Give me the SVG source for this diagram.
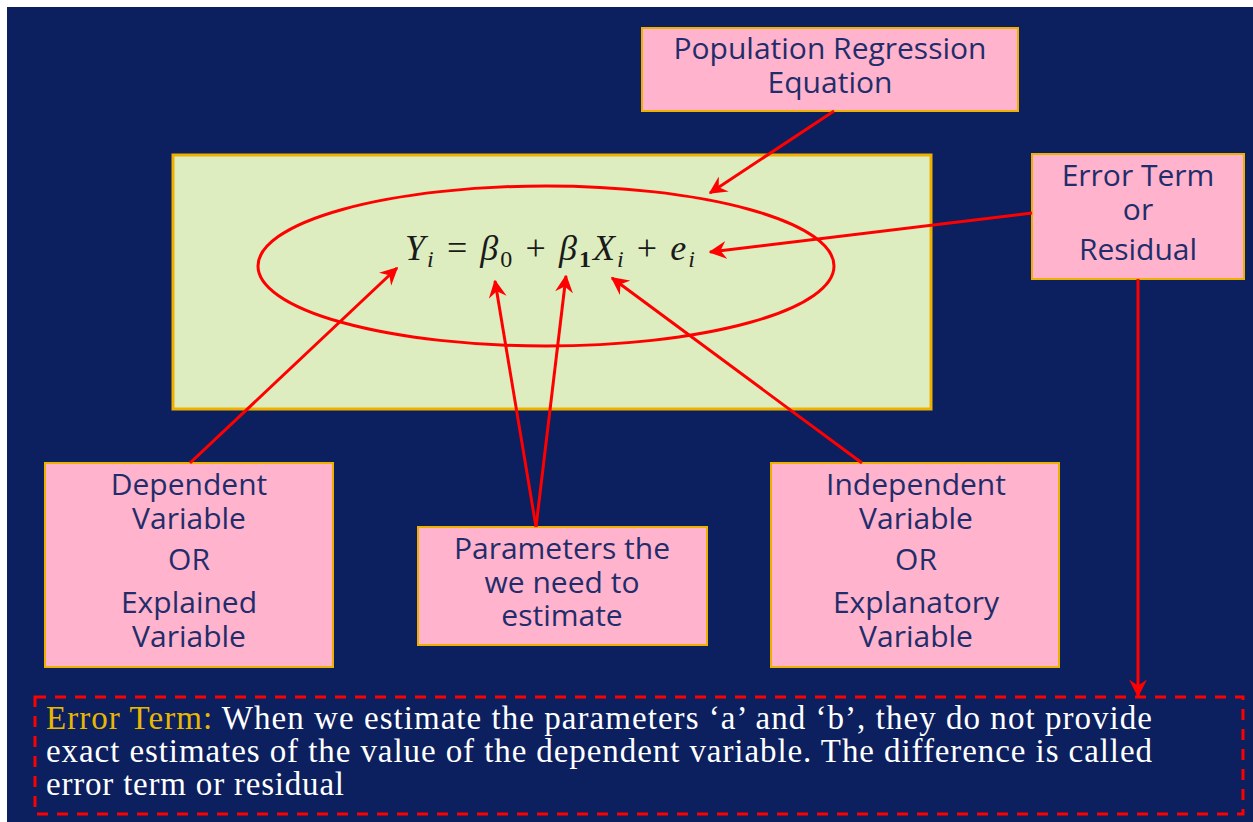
<svg xmlns="http://www.w3.org/2000/svg" width="1253" height="822" viewBox="0 0 1253 822">
<defs>
<style>
.box{fill:#FFB3CC;stroke:#F0B000;stroke-width:2}
.lbl{font-family:"Open Sans","Liberation Sans",sans-serif;font-size:30px;fill:#1F2D6B;text-anchor:middle}
.con{stroke:#FF0000;stroke-width:3;fill:none}
.eq{font-family:"Liberation Serif",serif;font-size:36px;fill:#1a1a1a}
.body{font-family:"Liberation Serif",serif;font-size:33px;fill:#FFFFFF}
</style>
<marker id="ah" viewBox="0 0 12 12" refX="11" refY="6" markerWidth="6" markerHeight="6" orient="auto" markerUnits="strokeWidth">
<path d="M0,0 L12,6 L0,12 L4,6 Z" fill="#FF0000"/>
</marker>
</defs>
<rect x="0" y="0" width="1253" height="822" fill="#FFFFFF"/>
<rect x="7" y="7" width="1246" height="815" fill="#0C1F5E"/>

<g id="equation-panel">
<rect x="173" y="155" width="758" height="254" fill="#DDEDC0" stroke="#F0B000" stroke-width="3"/>
<ellipse cx="546" cy="266" rx="288" ry="80" fill="none" stroke="#FF0000" stroke-width="3"/>
<text class="eq" x="405" y="260" textLength="290" lengthAdjust="spacing"><tspan font-style="italic">Y</tspan><tspan font-style="italic" font-size="24" dy="7">i</tspan><tspan dy="-7"> = </tspan><tspan font-style="italic">β</tspan><tspan font-size="24" dy="7">0</tspan><tspan dy="-7"> + </tspan><tspan font-style="italic">β</tspan><tspan font-size="24" font-weight="bold" dy="7">1</tspan><tspan font-style="italic" dy="-7">X</tspan><tspan font-style="italic" font-size="24" dy="7">i</tspan><tspan dy="-7"> + </tspan><tspan font-style="italic">e</tspan><tspan font-style="italic" font-size="24" dy="7">i</tspan></text>
</g>

<g id="population">
<rect class="box" x="642" y="28" width="376" height="83"/>
<text class="lbl" x="830" y="59">Population Regression</text>
<text class="lbl" x="830" y="93">Equation</text>
</g>

<g id="error-term">
<rect class="box" x="1032" y="154" width="212" height="125"/>
<text class="lbl" x="1138" y="186">Error Term</text>
<text class="lbl" x="1138" y="220">or</text>
<text class="lbl" x="1138" y="260">Residual</text>
</g>

<g id="dependent">
<rect class="box" x="45" y="463" width="288" height="204"/>
<text class="lbl" x="189" y="495">Dependent</text>
<text class="lbl" x="189" y="529">Variable</text>
<text class="lbl" x="189" y="570">OR</text>
<text class="lbl" x="189" y="613">Explained</text>
<text class="lbl" x="189" y="647">Variable</text>
</g>

<g id="parameters">
<rect class="box" x="418" y="527" width="289" height="118"/>
<text class="lbl" x="562" y="559">Parameters the</text>
<text class="lbl" x="562" y="593">we need to</text>
<text class="lbl" x="562" y="626">estimate</text>
</g>

<g id="independent">
<rect class="box" x="771" y="463" width="288" height="204"/>
<text class="lbl" x="916" y="495">Independent</text>
<text class="lbl" x="916" y="529">Variable</text>
<text class="lbl" x="916" y="570">OR</text>
<text class="lbl" x="916" y="613">Explanatory</text>
<text class="lbl" x="916" y="647">Variable</text>
</g>

<g id="note">
<rect x="35" y="697" width="1208" height="117" fill="none" stroke="#FF0000" stroke-width="3" stroke-dasharray="11,9"/>
<text class="body" x="46" y="729" textLength="1106" lengthAdjust="spacing"><tspan fill="#E8B800">Error Term:</tspan> When we estimate the parameters ‘a’ and ‘b’, they do not provide</text>
<text class="body" x="46" y="762" textLength="1106" lengthAdjust="spacing">exact estimates of the value of the dependent variable. The difference is called</text>
<text class="body" x="46" y="795" textLength="298" lengthAdjust="spacing">error term or residual</text>
</g>

<g id="connectors">
<line class="con" x1="834" y1="111" x2="710" y2="193" marker-end="url(#ah)"/>
<line class="con" x1="1032" y1="213" x2="710" y2="252" marker-end="url(#ah)"/>
<line class="con" x1="1138" y1="279" x2="1138" y2="696" marker-end="url(#ah)"/>
<line class="con" x1="190" y1="463" x2="397" y2="268" marker-end="url(#ah)"/>
<line class="con" x1="536" y1="527" x2="495" y2="281" marker-end="url(#ah)"/>
<line class="con" x1="536" y1="527" x2="566" y2="276" marker-end="url(#ah)"/>
<line class="con" x1="862" y1="463" x2="612" y2="278" marker-end="url(#ah)"/>
</g>
</svg>
